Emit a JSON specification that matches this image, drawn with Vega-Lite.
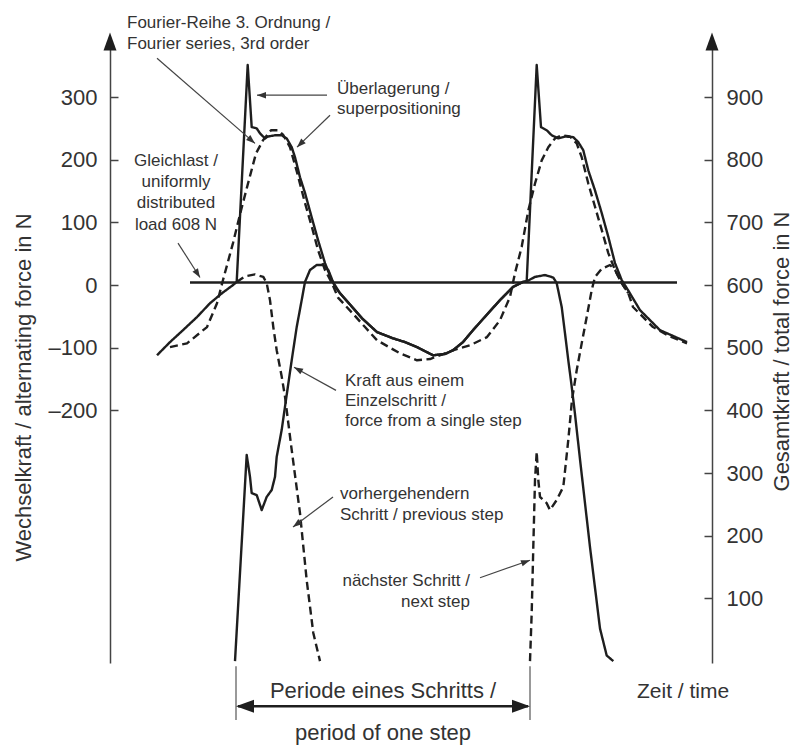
{
  "$schema": "https://vega.github.io/schema/vega-lite/v6.json",
  "width": 602,
  "height": 623,
  "autosize": {"type": "none"},
  "padding": {"left": 110, "top": 40, "right": 83, "bottom": 82},
  "background": "white",
  "config": {
    "view": {"stroke": null},
    "font": "Liberation Sans",
    "text": {"font": "Liberation Sans", "color": "#333"}
  },
  "datasets": {
    "curves": [
      {"series": "sup", "t": 47, "F": 488}, {"series": "sup", "t": 60, "F": 509}, {"series": "sup", "t": 73, "F": 528},
      {"series": "sup", "t": 87, "F": 549}, {"series": "sup", "t": 100, "F": 571}, {"series": "sup", "t": 112, "F": 587},
      {"series": "sup", "t": 123, "F": 600}, {"series": "sup", "t": 126.7, "F": 605}, {"series": "sup", "t": 137.7, "F": 951},
      {"series": "sup", "t": 141.7, "F": 852}, {"series": "sup", "t": 146.7, "F": 850}, {"series": "sup", "t": 150, "F": 842},
      {"series": "sup", "t": 155, "F": 834}, {"series": "sup", "t": 158, "F": 837}, {"series": "sup", "t": 165, "F": 839},
      {"series": "sup", "t": 171.7, "F": 839}, {"series": "sup", "t": 176.7, "F": 834}, {"series": "sup", "t": 181.7, "F": 820},
      {"series": "sup", "t": 185, "F": 804}, {"series": "sup", "t": 190, "F": 772}, {"series": "sup", "t": 195, "F": 747},
      {"series": "sup", "t": 201.7, "F": 708}, {"series": "sup", "t": 208, "F": 672}, {"series": "sup", "t": 215, "F": 635},
      {"series": "sup", "t": 221.7, "F": 608}, {"series": "sup", "t": 230, "F": 587}, {"series": "sup", "t": 240, "F": 569},
      {"series": "sup", "t": 252, "F": 547}, {"series": "sup", "t": 267, "F": 525}, {"series": "sup", "t": 283, "F": 515},
      {"series": "sup", "t": 295, "F": 509}, {"series": "sup", "t": 307, "F": 501}, {"series": "sup", "t": 323, "F": 488},
      {"series": "sup", "t": 335, "F": 490}, {"series": "sup", "t": 343, "F": 496}, {"series": "sup", "t": 353, "F": 509},
      {"series": "sup", "t": 363, "F": 528}, {"series": "sup", "t": 377, "F": 553}, {"series": "sup", "t": 390, "F": 576},
      {"series": "sup", "t": 403, "F": 597}, {"series": "sup", "t": 413, "F": 605}, {"series": "sup", "t": 416.7, "F": 606},
      {"series": "sup", "t": 426.7, "F": 951}, {"series": "sup", "t": 431, "F": 852}, {"series": "sup", "t": 436.7, "F": 847},
      {"series": "sup", "t": 441.7, "F": 839}, {"series": "sup", "t": 448.3, "F": 834}, {"series": "sup", "t": 455, "F": 837},
      {"series": "sup", "t": 463.3, "F": 836}, {"series": "sup", "t": 468.3, "F": 828}, {"series": "sup", "t": 473.3, "F": 815},
      {"series": "sup", "t": 478.3, "F": 783}, {"series": "sup", "t": 485, "F": 751}, {"series": "sup", "t": 491.7, "F": 715},
      {"series": "sup", "t": 498.3, "F": 677}, {"series": "sup", "t": 505, "F": 635}, {"series": "sup", "t": 511.7, "F": 608},
      {"series": "sup", "t": 518, "F": 592}, {"series": "sup", "t": 530, "F": 560}, {"series": "sup", "t": 550, "F": 528},
      {"series": "sup", "t": 577, "F": 509},

      {"series": "fourier", "t": 60, "F": 501}, {"series": "fourier", "t": 77, "F": 507}, {"series": "fourier", "t": 97, "F": 533},
      {"series": "fourier", "t": 107, "F": 571}, {"series": "fourier", "t": 113, "F": 608}, {"series": "fourier", "t": 123, "F": 667},
      {"series": "fourier", "t": 131, "F": 719}, {"series": "fourier", "t": 138, "F": 762}, {"series": "fourier", "t": 146, "F": 810},
      {"series": "fourier", "t": 153, "F": 831}, {"series": "fourier", "t": 161, "F": 847}, {"series": "fourier", "t": 168, "F": 847},
      {"series": "fourier", "t": 173, "F": 840}, {"series": "fourier", "t": 180, "F": 820}, {"series": "fourier", "t": 187, "F": 780},
      {"series": "fourier", "t": 195, "F": 731}, {"series": "fourier", "t": 202, "F": 692}, {"series": "fourier", "t": 208, "F": 656},
      {"series": "fourier", "t": 215, "F": 624}, {"series": "fourier", "t": 222, "F": 603}, {"series": "fourier", "t": 228, "F": 580},
      {"series": "fourier", "t": 242, "F": 556}, {"series": "fourier", "t": 255, "F": 533}, {"series": "fourier", "t": 267, "F": 512},
      {"series": "fourier", "t": 290, "F": 491}, {"series": "fourier", "t": 307, "F": 480}, {"series": "fourier", "t": 320, "F": 482},
      {"series": "fourier", "t": 335, "F": 491}, {"series": "fourier", "t": 343, "F": 496}, {"series": "fourier", "t": 360, "F": 504},
      {"series": "fourier", "t": 377, "F": 517}, {"series": "fourier", "t": 390, "F": 544}, {"series": "fourier", "t": 400, "F": 581},
      {"series": "fourier", "t": 405, "F": 619}, {"series": "fourier", "t": 411.7, "F": 661}, {"series": "fourier", "t": 418.3, "F": 719},
      {"series": "fourier", "t": 425, "F": 762}, {"series": "fourier", "t": 431.7, "F": 799}, {"series": "fourier", "t": 438.3, "F": 820},
      {"series": "fourier", "t": 445, "F": 834}, {"series": "fourier", "t": 451.7, "F": 839}, {"series": "fourier", "t": 460, "F": 837},
      {"series": "fourier", "t": 466.7, "F": 826}, {"series": "fourier", "t": 471.7, "F": 804}, {"series": "fourier", "t": 478.3, "F": 762},
      {"series": "fourier", "t": 485, "F": 725}, {"series": "fourier", "t": 491.7, "F": 688}, {"series": "fourier", "t": 498.3, "F": 651},
      {"series": "fourier", "t": 505, "F": 624}, {"series": "fourier", "t": 511.7, "F": 603}, {"series": "fourier", "t": 518.3, "F": 587},
      {"series": "fourier", "t": 523, "F": 565}, {"series": "fourier", "t": 543, "F": 533}, {"series": "fourier", "t": 560, "F": 518},
      {"series": "fourier", "t": 577, "F": 507},

      {"series": "single", "t": 125, "F": 0}, {"series": "single", "t": 136.7, "F": 329}, {"series": "single", "t": 140, "F": 294},
      {"series": "single", "t": 141.7, "F": 268}, {"series": "single", "t": 146.7, "F": 265}, {"series": "single", "t": 151.7, "F": 241},
      {"series": "single", "t": 156.7, "F": 262}, {"series": "single", "t": 161.7, "F": 273}, {"series": "single", "t": 165, "F": 294},
      {"series": "single", "t": 166.7, "F": 326}, {"series": "single", "t": 171.7, "F": 369}, {"series": "single", "t": 175, "F": 406},
      {"series": "single", "t": 181.7, "F": 480}, {"series": "single", "t": 186.7, "F": 533}, {"series": "single", "t": 191.7, "F": 576},
      {"series": "single", "t": 195, "F": 605}, {"series": "single", "t": 200, "F": 624}, {"series": "single", "t": 206.7, "F": 632},
      {"series": "single", "t": 213.3, "F": 632}, {"series": "single", "t": 218.3, "F": 624}, {"series": "single", "t": 225, "F": 597},
      {"series": "single", "t": 230, "F": 587}, {"series": "single", "t": 240, "F": 569}, {"series": "single", "t": 252, "F": 547},
      {"series": "single", "t": 267, "F": 525}, {"series": "single", "t": 283, "F": 515}, {"series": "single", "t": 295, "F": 509},
      {"series": "single", "t": 307, "F": 501}, {"series": "single", "t": 323, "F": 488}, {"series": "single", "t": 335, "F": 490},
      {"series": "single", "t": 343, "F": 496}, {"series": "single", "t": 353, "F": 509}, {"series": "single", "t": 363, "F": 528},
      {"series": "single", "t": 377, "F": 553}, {"series": "single", "t": 390, "F": 576}, {"series": "single", "t": 403, "F": 597},
      {"series": "single", "t": 413, "F": 605}, {"series": "single", "t": 416.7, "F": 606}, {"series": "single", "t": 425, "F": 613},
      {"series": "single", "t": 435, "F": 616}, {"series": "single", "t": 443.3, "F": 612}, {"series": "single", "t": 446.7, "F": 603},
      {"series": "single", "t": 451.7, "F": 565}, {"series": "single", "t": 455, "F": 523}, {"series": "single", "t": 458.3, "F": 480},
      {"series": "single", "t": 461.7, "F": 438}, {"series": "single", "t": 465, "F": 394}, {"series": "single", "t": 470, "F": 322},
      {"series": "single", "t": 480, "F": 182}, {"series": "single", "t": 490, "F": 52}, {"series": "single", "t": 496.7, "F": 9},
      {"series": "single", "t": 503.3, "F": 0},

      {"series": "prev", "t": 126.7, "F": 605}, {"series": "prev", "t": 135, "F": 614}, {"series": "prev", "t": 145, "F": 617},
      {"series": "prev", "t": 153.3, "F": 613}, {"series": "prev", "t": 156.7, "F": 603}, {"series": "prev", "t": 160, "F": 576},
      {"series": "prev", "t": 163.3, "F": 533}, {"series": "prev", "t": 166.7, "F": 496}, {"series": "prev", "t": 171.7, "F": 454},
      {"series": "prev", "t": 175, "F": 422}, {"series": "prev", "t": 178.3, "F": 380}, {"series": "prev", "t": 181.7, "F": 337},
      {"series": "prev", "t": 190, "F": 236}, {"series": "prev", "t": 196.7, "F": 129}, {"series": "prev", "t": 203.3, "F": 45},
      {"series": "prev", "t": 210, "F": 0},

      {"series": "next", "t": 420, "F": 0}, {"series": "next", "t": 421.7, "F": 77}, {"series": "next", "t": 423.3, "F": 182},
      {"series": "next", "t": 425, "F": 289}, {"series": "next", "t": 426.7, "F": 334}, {"series": "next", "t": 428.3, "F": 289},
      {"series": "next", "t": 430, "F": 262}, {"series": "next", "t": 436.7, "F": 252}, {"series": "next", "t": 440, "F": 241},
      {"series": "next", "t": 446.7, "F": 257}, {"series": "next", "t": 453.3, "F": 278}, {"series": "next", "t": 458.3, "F": 353},
      {"series": "next", "t": 462, "F": 417}, {"series": "next", "t": 466.7, "F": 464}, {"series": "next", "t": 471.7, "F": 507},
      {"series": "next", "t": 476.7, "F": 549}, {"series": "next", "t": 481.7, "F": 592}, {"series": "next", "t": 485, "F": 613},
      {"series": "next", "t": 491.7, "F": 626}, {"series": "next", "t": 500, "F": 632}, {"series": "next", "t": 505, "F": 624},
      {"series": "next", "t": 511.7, "F": 603}, {"series": "next", "t": 518.3, "F": 587}
    ],
    "load": [{"t": 80, "t2": 567, "F": 604}],
    "leaders": [
      {"name": "fourier", "t": 47, "F": 962, "t2": 145, "F2": 826},
      {"name": "ueber", "t": 217, "F": 903, "t2": 147, "F2": 903},
      {"name": "superpos", "t": 220, "F": 871, "t2": 187, "F2": 820},
      {"name": "gleich", "t": 68, "F": 667, "t2": 90, "F2": 612},
      {"name": "kraft", "t": 226, "F": 432, "t2": 184, "F2": 469},
      {"name": "prev", "t": 223, "F": 262, "t2": 183, "F2": 214},
      {"name": "next", "t": 370, "F": 133, "t2": 420, "F2": 161}
    ],
    "bigHeads": [
      {"name": "axisL", "t": 0, "F": 1003},
      {"name": "axisR", "t": 602, "F": 1003},
      {"name": "periodL", "t": 126, "F": -72},
      {"name": "periodR", "t": 420, "F": -72}
    ],
    "period": [{"t": 128, "t2": 418, "F": -72}],
    "periodTicks": [{"t": 126, "F": -8, "F2": -94}, {"t": 420, "F": -8, "F2": -94}],
    "annLeft": [
      {"text": "Fourier-Reihe 3. Ordnung /", "t": 17, "F": 1010},
      {"text": "Fourier series, 3rd order", "t": 17, "F": 976},
      {"text": "Überlagerung /", "t": 227, "F": 904.5},
      {"text": "superpositioning", "t": 227, "F": 872.6},
      {"text": "Kraft aus einem", "t": 235, "F": 439},
      {"text": "Einzelschritt /", "t": 235, "F": 407},
      {"text": "force from a single step", "t": 235, "F": 375},
      {"text": "vorhergehendern", "t": 230, "F": 258.5},
      {"text": "Schritt / previous step", "t": 230, "F": 225}
    ],
    "annCenter": [
      {"text": "Gleichlast /", "t": 66, "F": 789.6},
      {"text": "uniformly", "t": 66, "F": 756},
      {"text": "distributed", "t": 66, "F": 722.7},
      {"text": "load 608 N", "t": 66, "F": 687.6}
    ],
    "annRight": [
      {"text": "nächster Schritt /", "t": 360, "F": 119.8},
      {"text": "next step", "t": 360, "F": 86.3}
    ],
    "bottomCenter": [
      {"text": "Periode eines Schritts /", "t": 273, "F": -59},
      {"text": "period of one step", "t": 273, "F": -126}
    ],
    "bottomLeft": [{"text": "Zeit / time", "t": 527, "F": -59}]
  },
  "encoding": {
    "x": {"field": "t", "type": "quantitative", "scale": {"domain": [0, 602], "nice": false, "zero": false}, "axis": null},
    "y": {"field": "F", "type": "quantitative", "scale": {"domain": [-3, 991], "nice": false, "zero": false}, "axis": null}
  },
  "layer": [
    {
      "data": {"name": "curves"},
      "mark": {"type": "line", "strokeWidth": 2.4, "color": "#1e1e1e", "strokeJoin": "round"},
      "encoding": {
        "x": {"field": "t", "type": "quantitative", "scale": {"domain": [0, 602], "nice": false, "zero": false},
          "axis": {"orient": "bottom", "domain": true, "domainColor": "#444", "domainWidth": 1.5, "ticks": false, "labels": false, "title": null, "grid": false}},
        "y": {"field": "F", "type": "quantitative", "scale": {"domain": [-3, 991], "nice": false, "zero": false},
          "axis": {"orient": "left", "values": [400, 500, 600, 700, 800, 900],
            "labelExpr": "datum.value < 600 ? '–' + (600 - datum.value) : '' + (datum.value - 600)",
            "tickSize": -8, "tickColor": "#444", "tickWidth": 1.5, "domainColor": "#444", "domainWidth": 1.5,
            "labelFont": "Liberation Sans", "labelFontSize": 22, "labelColor": "#333", "labelPadding": 21,
            "labelFlush": false, "labelOverlap": false, "grid": false,
            "title": "Wechselkraft / alternating force in N", "titleFont": "Liberation Sans", "titleFontSize": 22,
            "titleFontWeight": "normal", "titleColor": "#333", "titleAngle": 270, "titleX": -87, "titleY": 347,
            "titleBaseline": "middle", "titleAlign": "center"}},
        "detail": {"field": "series"},
        "strokeDash": {"field": "series", "type": "nominal",
          "scale": {"domain": ["sup", "single", "fourier", "prev", "next"], "range": [[1, 0], [1, 0], [8, 4.5], [8, 4.5], [8, 4.5]]},
          "legend": null}
      }
    },
    {
      "data": {"name": "load"},
      "mark": {"type": "rule", "strokeWidth": 2.4, "color": "#1e1e1e"},
      "encoding": {
        "x2": {"field": "t2"},
        "y": {"field": "F", "type": "quantitative", "scale": {"domain": [-3, 991], "nice": false, "zero": false},
          "axis": {"orient": "right", "values": [100, 200, 300, 400, 500, 600, 700, 800, 900],
            "tickSize": -8, "tickColor": "#444", "tickWidth": 1.5, "domainColor": "#444", "domainWidth": 1.5,
            "labelFont": "Liberation Sans", "labelFontSize": 22, "labelColor": "#333", "labelPadding": 22,
            "labelFlush": false, "labelOverlap": false, "grid": false,
            "title": "Gesamtkraft / total force in N", "titleFont": "Liberation Sans", "titleFontSize": 22,
            "titleFontWeight": "normal", "titleColor": "#333", "titleAngle": 270, "titleX": 69, "titleY": 311,
            "titleBaseline": "middle", "titleAlign": "center"}}
      }
    },
    {
      "data": {"name": "leaders"},
      "mark": {"type": "rule", "strokeWidth": 1.2, "color": "#444"},
      "encoding": {"x2": {"field": "t2"}, "y2": {"field": "F2"}}
    },
    {
      "data": {"name": "leaders"},
      "mark": {"type": "point", "filled": true, "color": "#333", "opacity": 1, "size": 324, "shape": "M0,0L0.36,1L-0.36,1Z"},
      "encoding": {
        "x": {"field": "t2", "type": "quantitative", "scale": {"domain": [0, 602], "nice": false, "zero": false}, "axis": null},
        "y": {"field": "F2", "type": "quantitative", "scale": {"domain": [-3, 991], "nice": false, "zero": false}, "axis": null},
        "angle": {"field": "name", "type": "nominal",
          "scale": {"type": "ordinal", "domain": ["fourier", "ueber", "superpos", "gleich", "kraft", "prev", "next", "axisL", "axisR", "periodL", "periodR"],
            "range": [130.9, 270, 225.9, 147.8, 298.7, 233.1, 70.2, 0, 0, 270, 90]}, "legend": null}
      }
    },
    {
      "data": {"name": "periodTicks"},
      "mark": {"type": "rule", "strokeWidth": 1.2, "color": "#555"},
      "encoding": {"y2": {"field": "F2"}}
    },
    {
      "data": {"name": "period"},
      "mark": {"type": "rule", "strokeWidth": 2.6, "color": "#1e1e1e"},
      "encoding": {"x2": {"field": "t2"}}
    },
    {
      "data": {"name": "bigHeads"},
      "mark": {"type": "point", "filled": true, "color": "#1e1e1e", "opacity": 1, "size": 1296, "shape": "M0,0L0.36,1L-0.36,1Z"},
      "encoding": {
        "angle": {"field": "name", "type": "nominal",
          "scale": {"type": "ordinal", "domain": ["fourier", "ueber", "superpos", "gleich", "kraft", "prev", "next", "axisL", "axisR", "periodL", "periodR"],
            "range": [130.9, 270, 225.9, 147.8, 298.7, 233.1, 70.2, 0, 0, 270, 90]}, "legend": null}
      }
    },
    {
      "data": {"name": "annLeft"},
      "mark": {"type": "text", "align": "left", "baseline": "alphabetic", "fontSize": 17, "font": "Liberation Sans", "color": "#333"},
      "encoding": {"text": {"field": "text"}}
    },
    {
      "data": {"name": "annCenter"},
      "mark": {"type": "text", "align": "center", "baseline": "alphabetic", "fontSize": 17, "font": "Liberation Sans", "color": "#333"},
      "encoding": {"text": {"field": "text"}}
    },
    {
      "data": {"name": "annRight"},
      "mark": {"type": "text", "align": "right", "baseline": "alphabetic", "fontSize": 17, "font": "Liberation Sans", "color": "#333"},
      "encoding": {"text": {"field": "text"}}
    },
    {
      "data": {"name": "bottomCenter"},
      "mark": {"type": "text", "align": "center", "baseline": "alphabetic", "fontSize": 22, "font": "Liberation Sans", "color": "#333"},
      "encoding": {"text": {"field": "text"}}
    },
    {
      "data": {"name": "bottomLeft"},
      "mark": {"type": "text", "align": "left", "baseline": "alphabetic", "fontSize": 21, "font": "Liberation Sans", "color": "#333"},
      "encoding": {"text": {"field": "text"}}
    }
  ],
  "resolve": {"axis": {"y": "independent"}}
}
